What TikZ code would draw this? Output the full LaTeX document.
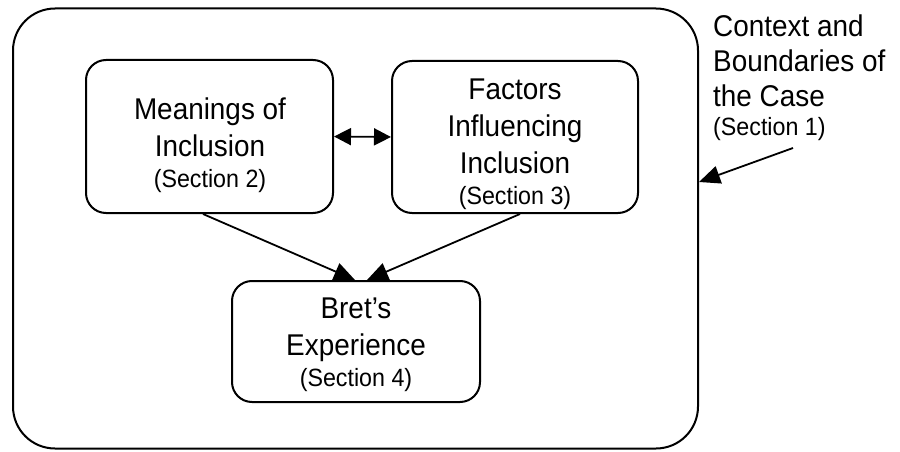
\documentclass[tikz,border=0pt]{standalone}
\usepackage{fontspec}
\setmainfont[FakeStretch=0.93]{Liberation Sans}
\usetikzlibrary{arrows.meta,calc}
\begin{document}
\begin{tikzpicture}[x=1pt,y=-1pt,
  box/.style={draw, line width=2pt, rounded corners=20pt, inner sep=0pt},
  txt/.style={align=center, font=\fontsize{30}{37}\selectfont, inner sep=0pt},
  arr/.style={line width=1.8pt, -{Triangle[length=21pt,width=18pt]}},
  darr/.style={line width=1.8pt, {Triangle[length=17pt,width=17pt]}-{Triangle[length=17pt,width=17pt]}},
]
\useasboundingbox (0,0) rectangle (900,452);
\node[box, rounded corners=42pt, minimum width=685pt, minimum height=440pt] (outer) at (355.5,228.5) {};
\node[box, minimum width=247pt, minimum height=153pt] (m) at (209.5,136.5) {};
\node[box, minimum width=246pt, minimum height=152pt] (f) at (515,137) {};
\node[box, minimum width=248pt, minimum height=121pt] (b) at (356,341.5) {};
\node[txt] (mt) at (210,145) {Meanings of\\Inclusion\\[-6pt]{\fontsize{25}{37}\selectfont (Section 2)}};
\node[txt] (ft) at (515,144) {Factors\\Influencing\\Inclusion\\[-6pt]{\fontsize{25}{37}\selectfont (Section 3)}};
\node[txt] (bt) at (356,345) {Bret's\\Experience\\[-6pt]{\fontsize{25}{37}\selectfont (Section 4)}};
\node[txt, align=left, anchor=north west, font=\fontsize{30}{35}\selectfont] (ctx) at (713,15) {Context and\\Boundaries of\\the Case\\[-6pt]{\fontsize{25}{35}\selectfont (Section 1)}};
\coordinate (s1tail) at (793,148);
\draw[darr] (m.east) -- (f.west);
\draw[arr] ([xshift=-6.5pt]m.south) -- ([xshift=-1pt]b.north);
\draw[arr] ([xshift=5pt]f.south) -- ([xshift=11pt]b.north);
\draw[arr] (s1tail) -- ([yshift=46.5pt]outer.east);
\end{tikzpicture}
\end{document}
